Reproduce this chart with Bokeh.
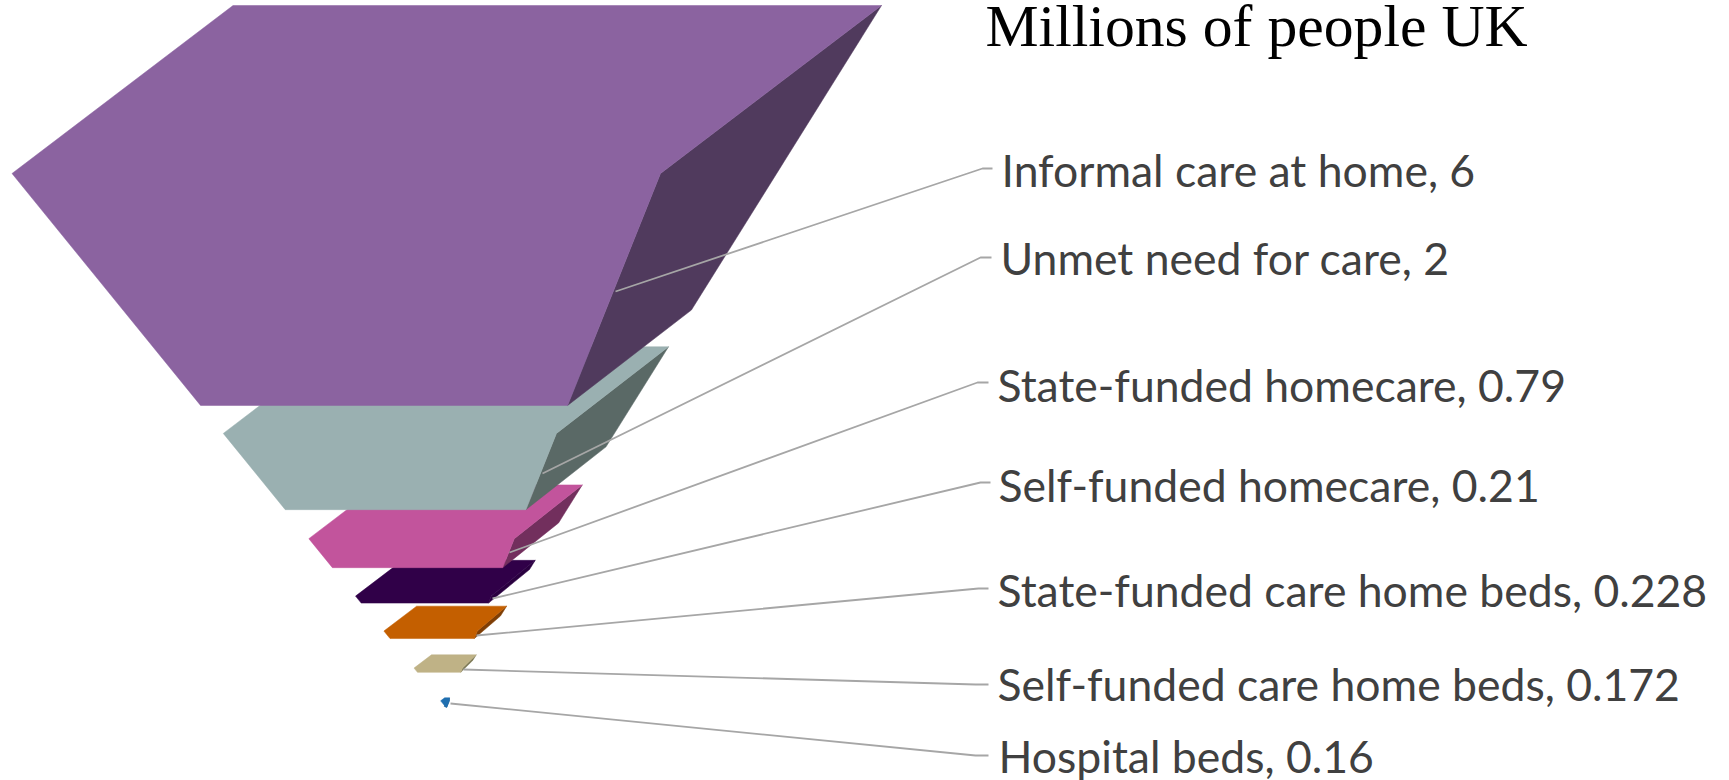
from bokeh.plotting import figure
from bokeh.models import Range1d, ColumnDataSource
from bokeh.core.properties import value
from bokeh.embed import file_html
from bokeh.resources import INLINE

categories = ["Informal care at home", "Unmet need for care", "State-funded homecare",
              "Self-funded homecare", "State-funded care home beds",
              "Self-funded care home beds", "Hospital beds"]
people_millions = ["6", "2", "0.79", "0.21", "0.228", "0.172", "0.16"]

# height of every layer's top and bottom on the funnel, apex = 0, rim = 1
level_top = [1.0, 0.516, 0.32, 0.213, 0.148, 0.079, 0.018]
level_bottom = [0.568, 0.374, 0.266, 0.2, 0.134, 0.071, 0.006]

face_colors = ["#8B63A0", "#9AB0B1", "#C2549C", "#300048", "#C45F00", "#BFB286", "#1F6FB0"]
side_colors = ["#503A5D", "#5A6966", "#722F5D", "#2A0040", "#7F3E05", "#7E7A57", "#15507E"]

# projected funnel: apex (the edges meet a little apart) and the four rim corners
apex_left_x = 448.0
apex_front_right_x = 445.0
apex_back_right_x = 441.0
apex_y = 710.0
rim_front_left = (11.5, 173.0)
rim_front_right = (660.0, 173.0)
rim_back_left = (232.5, 5.0)
rim_back_right = (881.0, 5.0)

# leader lines: anchor on the layer, elbow, end
leader_x0 = [615, 542, 509, 492, 476, 463, 450]
leader_y0 = [291, 473, 552, 598, 635, 669, 703]
leader_x1 = [982, 980, 977, 980, 978, 975, 975]
leader_y1 = [168, 257, 382, 482, 588, 684, 755]
leader_x2 = [992, 991, 988, 990, 988, 988, 988]

label_x = [1001, 1000, 997, 998, 997, 997, 998]
label_y = [186, 274, 401, 501, 606, 700, 772]

title_text = "Millions of people UK"


def along(ax, corner, t):
    return (ax + t * (corner[0] - ax), apex_y + t * (corner[1] - apex_y))


p = figure(width=1729, height=780, output_backend="svg", toolbar_location=None,
           x_range=Range1d(0, 1729), y_range=Range1d(780, 0), min_border=0,
           outline_line_color=None)
p.axis.visible = False
p.grid.visible = False

for i in reversed(range(len(categories))):
    t1, t2 = level_top[i], level_bottom[i]
    fl1 = along(apex_left_x, rim_front_left, t1)
    bl1 = along(apex_left_x, rim_back_left, t1)
    fr1 = along(apex_front_right_x, rim_front_right, t1)
    br1 = along(apex_back_right_x, rim_back_right, t1)
    fl2 = along(apex_left_x, rim_front_left, t2)
    fr2 = along(apex_front_right_x, rim_front_right, t2)
    br2 = along(apex_back_right_x, rim_back_right, t2)
    side = [fr1, br1, br2, fr2]
    p.patch([q[0] for q in side], [q[1] for q in side], fill_color=side_colors[i],
            line_color=side_colors[i], line_width=0.5)
    face = [fl1, bl1, br1, fr1, fr2, fl2]
    p.patch([q[0] for q in face], [q[1] for q in face], fill_color=face_colors[i],
            line_color=face_colors[i], line_width=0.5)

for i in range(len(categories)):
    p.line([leader_x0[i], leader_x1[i], leader_x2[i]],
           [leader_y0[i], leader_y1[i], leader_y1[i]],
           line_color="#A6A6A6", line_width=1.8)

labels = [f"{c}, {v}" for c, v in zip(categories, people_millions)]
p.text(x="x", y="y", text="t",
       source=ColumnDataSource(dict(x=label_x, y=label_y, t=labels)),
       text_font=value("Lato"), text_font_size="44.5px", text_color="#404040",
       text_baseline="alphabetic", text_align="left", y_offset=-17.5)
p.text(x=[985], y=[45], text=[title_text], text_font=value("Liberation Serif"),
       text_font_size="59.7px", text_color="#000000",
       text_baseline="alphabetic", text_align="left", y_offset=-20)

open("out.html", "w").write(file_html(p, INLINE))
